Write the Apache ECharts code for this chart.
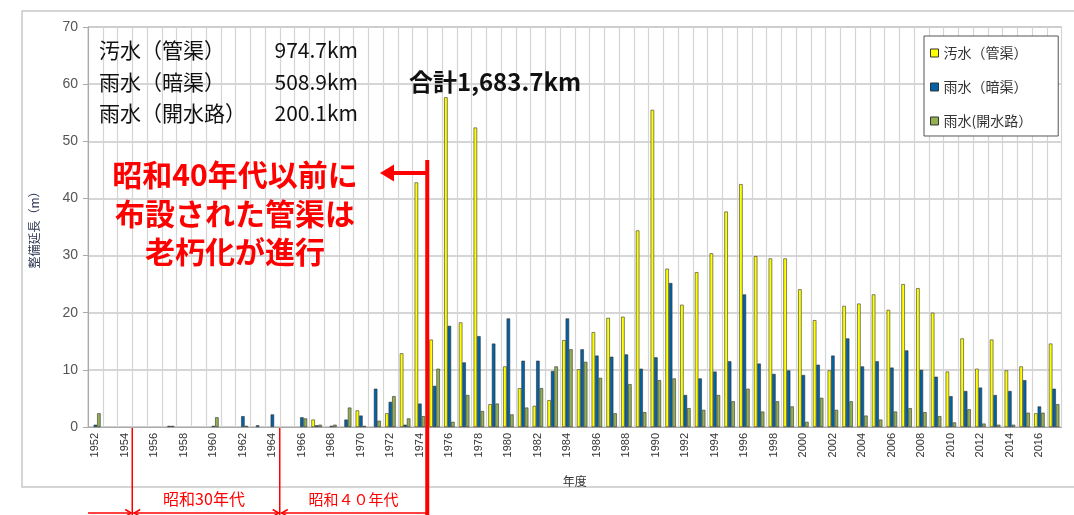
<!DOCTYPE html>
<html>
<head>
<meta charset="utf-8">
<script src="https://cdn.jsdelivr.net/npm/echarts@6/dist/echarts.min.js"></script>
<style>
html, body { margin: 0; padding: 0; background: #fff; }
#main { width: 1074px; height: 515px; }
</style>
</head>
<body>
<div id="main"></div>
<script>
'use strict';

// 年度 1952〜2017
let years = [];
for (let y = 1952; y <= 2017; y++) {
	years.push(String(y));
}

let sewage = [
	0, 0, 0, 0, 0, 0, 0, 0, 0, 0,
	0, 0, 0, 0, 0, 1.3, 0, 0, 2.9, 0,
	2.4, 12.9, 42.8, 15.3, 57.7, 18.3, 52.4, 4.0, 10.6, 6.8,
	3.7, 4.7, 15.2, 10.1, 16.6, 19.1, 19.3, 34.4, 55.5, 27.7,
	21.4, 27.1, 30.4, 37.7, 42.5, 29.9, 29.5, 29.5, 24.1, 18.7,
	9.9, 21.2, 21.6, 23.2, 20.5, 25.0, 24.3, 20.0, 9.7, 15.5,
	10.2, 15.3, 9.9, 10.6, 2.4, 14.6
];

let rainCulvert = [
	0.4, 0, 0, 0, 0, 0.2, 0, 0, 0.2, 0,
	1.9, 0.3, 2.2, 0, 1.7, 0.3, 0.2, 1.3, 2.0, 6.7,
	4.4, 0.4, 4.1, 7.2, 17.7, 11.3, 15.9, 14.6, 19.0, 11.6,
	11.6, 9.8, 19.0, 13.6, 12.5, 12.3, 12.7, 10.2, 12.2, 25.2,
	5.6, 8.5, 9.7, 11.5, 23.2, 11.1, 9.3, 9.9, 9.1, 10.9,
	12.5, 15.5, 10.6, 11.5, 10.4, 13.4, 10.0, 8.8, 5.4, 6.3,
	6.9, 5.6, 6.3, 8.2, 3.6, 6.7
];

let rainOpen = [
	2.4, 0, 0, 0, 0, 0.2, 0, 0, 1.7, 0,
	0.2, 0, 0, 0, 1.5, 0.4, 0.4, 3.4, 0.2, 1.1,
	5.4, 1.5, 1.9, 10.2, 0.9, 5.6, 2.8, 4.1, 2.2, 3.4,
	6.8, 10.6, 13.6, 11.4, 8.6, 2.4, 7.5, 2.6, 8.2, 8.5,
	3.3, 3.0, 5.6, 4.5, 6.7, 2.7, 4.5, 3.6, 0.9, 5.1,
	3.0, 4.5, 2.0, 1.3, 2.7, 3.3, 2.6, 1.9, 0.8, 3.1,
	0.6, 0.4, 0.4, 2.5, 2.5, 4.0
];

let seriesNames = ['汚水（管渠）', '雨水（暗渠）', '雨水(開水路）'];
let seriesColors = ['#ffff00', '#0063a8', '#93b152'];

let totals = [
	['汚水（管渠）', '974.7km'],
	['雨水（暗渠）', '508.9km'],
	['雨水（開水路）', '200.1km']
];

let myChart = echarts.init(document.getElementById('main'));

// grid geometry
let G = { left: 88, top: 27, width: 973.5, height: 400 };
let catW = G.width / years.length;
function boundaryX(year) {
	return G.left + catW * (year - 1952);
}

let red = '#ff0000';
let jp = '"Noto Sans CJK JP", sans-serif';

let graphics = [];

// outer frame
graphics.push({
	type: 'rect', silent: true, z: -1,
	shape: { x: 22, y: 11, width: 1070, height: 476 },
	style: { fill: 'none', stroke: '#c8c8c8', lineWidth: 1.5 }
});

// totals block
let rowsY = [50, 82, 113];
totals.forEach((row, i) => {
	graphics.push({
		type: 'text', z: 10,
		style: { text: row[0], x: 99, y: rowsY[i], textVerticalAlign: 'middle', font: '21px ' + jp, fill: '#111' }
	});
	graphics.push({
		type: 'text', z: 10,
		style: { text: row[1], x: 358, y: rowsY[i], textAlign: 'right', textVerticalAlign: 'middle', font: '21px ' + jp, fill: '#111' }
	});
});
graphics.push({
	type: 'text', z: 10,
	style: { text: '合計1,683.7km', x: 409, y: 82, textVerticalAlign: 'middle', font: 'bold 24px ' + jp, fill: '#111' }
});

// red note
['昭和40年代以前に', '布設された管渠は', '老朽化が進行'].forEach((t, i) => {
	graphics.push({
		type: 'text', z: 10,
		style: { text: t, x: 235, y: 175 + i * 38.5, textAlign: 'center', textVerticalAlign: 'middle', font: 'bold 30px ' + jp, fill: red }
	});
});

// S50 boundary line and arrow
let x50 = boundaryX(1975);
graphics.push({
	type: 'line', z: 10, silent: true,
	shape: { x1: x50, y1: 160, x2: x50, y2: 515 },
	style: { stroke: red, lineWidth: 4 }
});
graphics.push({
	type: 'line', z: 10, silent: true,
	shape: { x1: x50, y1: 173, x2: 392, y2: 173 },
	style: { stroke: red, lineWidth: 4 }
});
graphics.push({
	type: 'polygon', z: 10, silent: true,
	shape: { points: [[380, 173], [394, 164.5], [394, 181.5]] },
	style: { fill: red }
});

// decade brackets
let x30 = boundaryX(1955);
let x40 = boundaryX(1965);
[x30, x40].forEach(x => {
	graphics.push({
		type: 'line', z: 10, silent: true,
		shape: { x1: x, y1: 428, x2: x, y2: 515 },
		style: { stroke: red, lineWidth: 1.5 }
	});
});
let yB = 513;
graphics.push({
	type: 'line', z: 10, silent: true,
	shape: { x1: G.left, y1: yB, x2: x30 - 1, y2: yB },
	style: { stroke: red, lineWidth: 1.5 }
});
graphics.push({
	type: 'line', z: 10, silent: true,
	shape: { x1: x30 + 1, y1: yB, x2: x40 - 1, y2: yB },
	style: { stroke: red, lineWidth: 1.5 }
});
graphics.push({
	type: 'line', z: 10, silent: true,
	shape: { x1: x40 + 1, y1: yB, x2: x50, y2: yB },
	style: { stroke: red, lineWidth: 1.5 }
});
function head(x, dir) {
	graphics.push({
		type: 'polyline', z: 10, silent: true,
		shape: { points: [[x - dir * 6, yB - 3.5], [x, yB], [x - dir * 6, yB + 3.5]] },
		style: { stroke: red, lineWidth: 1.5, fill: 'none' }
	});
}
head(x30 - 1, 1);
head(x30 + 2, -1);
head(x40 - 1, 1);
head(x40 + 2, -1);
graphics.push({
	type: 'text', z: 10,
	style: { text: '昭和30年代', x: (x30 + x40) / 2 - 2, y: 499, textAlign: 'center', textVerticalAlign: 'middle', font: '16px ' + jp, fill: red }
});
graphics.push({
	type: 'text', z: 10,
	style: { text: '昭和４０年代', x: (x40 + x50) / 2, y: 499, textAlign: 'center', textVerticalAlign: 'middle', font: '15px ' + jp, fill: red }
});

// zero years have no bar at all
let series = [sewage, rainCulvert, rainOpen].map((data, i) => {
	return {
		name: seriesNames[i],
		type: 'bar',
		data: data.map(v => (v === 0 ? '-' : v)),
		barWidth: 3.5,
		barGap: '0%',
		itemStyle: {
			color: seriesColors[i],
			borderColor: '#333',
			borderWidth: 0.6
		}
	};
});

let option = {
	animation: false,
	textStyle: { fontFamily: jp },
	color: seriesColors,
	grid: {
		left: G.left,
		top: G.top,
		width: G.width,
		height: G.height,
		show: true,
		borderColor: '#bdbdbd',
		borderWidth: 1
	},
	legend: {
		orient: 'vertical',
		left: 924,
		top: 36,
		padding: [10, 26, 8, 6],
		itemGap: 20,
		itemWidth: 8,
		itemHeight: 8,
		icon: 'rect',
		backgroundColor: '#fff',
		borderColor: '#555',
		borderWidth: 1,
		textStyle: { fontSize: 14, color: '#333', fontFamily: jp },
		itemStyle: { borderColor: '#333', borderWidth: 1 },
		data: seriesNames
	},
	xAxis: {
		type: 'category',
		data: years,
		name: '年度',
		nameLocation: 'middle',
		nameGap: 48,
		nameTextStyle: { fontSize: 12, color: '#333' },
		axisLine: { lineStyle: { color: '#aaa' } },
		axisTick: { show: false },
		axisLabel: {
			interval: 1,
			rotate: 90,
			fontSize: 11,
			color: '#333',
			fontFamily: 'Liberation Sans, Arial, sans-serif',
			margin: 6
		},
		splitLine: { show: true, interval: 0, lineStyle: { color: '#d4d4d4', width: 1.2 } }
	},
	yAxis: {
		type: 'value',
		min: 0,
		max: 70,
		interval: 10,
		name: '整備延長（m）',
		nameLocation: 'middle',
		nameGap: 48,
		nameTextStyle: { fontSize: 12, color: '#2b3550' },
		axisLine: { show: true, lineStyle: { color: '#aaa' } },
		axisTick: { show: true, length: 5, lineStyle: { color: '#aaa' } },
		axisLabel: { fontSize: 14, color: '#555', fontFamily: 'Liberation Sans, Arial, sans-serif', margin: 10 },
		splitLine: { show: true, lineStyle: { color: '#c8c8c8', width: 1.5 } }
	},
	graphic: graphics,
	series: series
};

myChart.setOption(option);
</script>
</body>
</html>
